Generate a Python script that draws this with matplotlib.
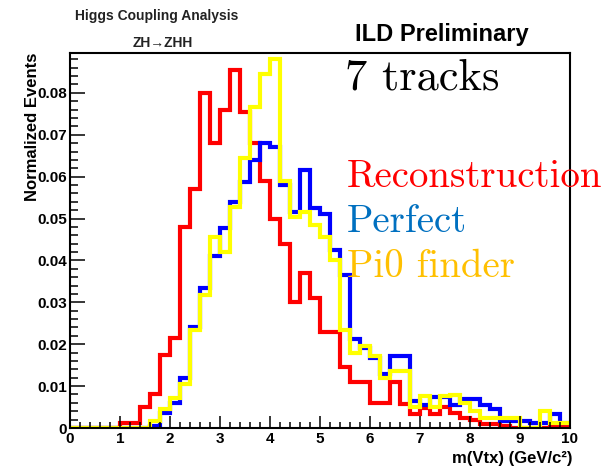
import numpy as np
import matplotlib
matplotlib.use('Agg')
import matplotlib.pyplot as plt
from matplotlib.ticker import MultipleLocator

# 50 bins of 0.2 GeV from 0 to 10
edges = np.linspace(0, 10, 51)

# normalized events per bin
reco = [0, 0, 0, 0, 0, 0.0012, 0.0012, 0.005, 0.0082, 0.0175,
        0.0215, 0.048, 0.057, 0.080, 0.068, 0.076, 0.0855, 0.0755, 0.068, 0.059,
        0.050, 0.044, 0.030, 0.037, 0.031, 0.023, 0.023, 0.0145, 0.011, 0.011,
        0.006, 0.006, 0.011, 0.0057, 0.0034, 0.0048, 0.0034, 0.005, 0.0035, 0.0025,
        0.002, 0.001, 0.001, 0.0005, 0, 0, 0, 0, 0.0005, 0.0005]
perfect = [0, 0, 0, 0, 0, 0, 0, 0, 0.0005, 0.0036,
           0.006, 0.012, 0.024, 0.0335, 0.041, 0.0477, 0.054, 0.0587, 0.064, 0.068,
           0.067, 0.058, 0.0515, 0.0617, 0.0525, 0.051, 0.0425, 0.0365, 0.0213, 0.019,
           0.0168, 0.013, 0.0173, 0.0173, 0.0065, 0.0055, 0.0075, 0.0075, 0.0055, 0.007,
           0.007, 0.0055, 0.0045, 0.0017, 0.0017, 0.0017, 0.0012, 0.0012, 0.0033, 0.0012]
pi0 = [0, 0, 0, 0, 0, 0, 0, 0, 0.0017, 0.0045,
       0.0072, 0.0105, 0.0233, 0.0317, 0.0456, 0.042, 0.0528, 0.0645, 0.0767, 0.0844,
       0.088, 0.059, 0.0504, 0.0515, 0.0484, 0.0456, 0.040, 0.0233, 0.018, 0.0195,
       0.0172, 0.012, 0.0137, 0.0137, 0.005, 0.0077, 0.005, 0.0077, 0.0079, 0.006,
       0.004, 0.0025, 0.0025, 0.0025, 0.0024, 0, 0, 0.004, 0.0012, 0.0012]

labels = ['Reconstruction', 'Perfect', 'Pi0 finder']
line_colors = ['#ff0000', '#0000ff', '#ffff00']
text_colors = ['#ff0000', '#0070c0', '#ffc000']

plt.rcParams['font.family'] = ['Liberation Sans', 'DejaVu Sans']

W, H = 605, 469
fig = plt.figure(figsize=(W / 100, H / 100), dpi=100)
ax = fig.add_axes([70 / W, 1 - 428 / H, 500 / W, (428 - 53.5) / H])

for vals, c in zip([reco, perfect, pi0], line_colors):
    ax.stairs(vals, edges, baseline=None, color=c, lw=3)

ax.set_xlim(0, 10)
ax.set_ylim(0, 0.0894)
ax.xaxis.set_major_locator(MultipleLocator(1))
ax.xaxis.set_minor_locator(MultipleLocator(0.2))
ax.yaxis.set_major_locator(MultipleLocator(0.01))
ax.yaxis.set_minor_locator(MultipleLocator(0.002))
ax.set_yticks(np.arange(0, 0.085, 0.01))
ax.set_yticklabels(['0'] + ['%.2f' % v for v in np.arange(0.01, 0.085, 0.01)])

ax.tick_params(which='both', direction='in', top=False, right=False, width=1.1, labelsize=11)
ax.tick_params(axis='x', which='major', length=8.6, pad=3)
ax.tick_params(axis='x', which='minor', length=4.3)
ax.tick_params(axis='y', which='major', length=10.8, pad=2)
ax.tick_params(axis='y', which='minor', length=5.4)
for lab in ax.get_xticklabels() + ax.get_yticklabels():
    lab.set_fontweight('bold')
for sp in ax.spines.values():
    sp.set_linewidth(1.5)

# axis titles, ROOT style
fig.text(572 / W, 1 - 463 / H, 'm(Vtx) (GeV/c²)', ha='right', va='baseline',
         fontsize=12, fontweight='bold')
fig.text(33 / W, 1 - 53 / H, 'Normalized Events', rotation=90, ha='center', va='top',
         fontsize=12, fontweight='bold')

# header texts
fig.text(75 / W, 1 - 20 / H, 'Higgs Coupling Analysis', fontsize=10, fontweight='bold',
         va='baseline', color='#222222')
fig.text(163 / W, 1 - 47 / H, 'ZH→ZHH', fontsize=10, fontweight='bold', ha='center',
         va='baseline', color='#222222')
fig.text(355 / W, 1 - 41 / H, 'ILD Preliminary', fontsize=17, fontweight='bold',
         va='baseline')
fig.text(345 / W, 1 - 90 / H, '7 tracks', fontsize=32, family='cmr10', va='baseline')

for i, (lab, c) in enumerate(zip(labels, text_colors)):
    fig.text(347 / W, 1 - (187 + 45 * i) / H, lab, fontsize=28, family='cmr10',
             color=c, va='baseline')

fig.savefig('out.png', dpi=100)
